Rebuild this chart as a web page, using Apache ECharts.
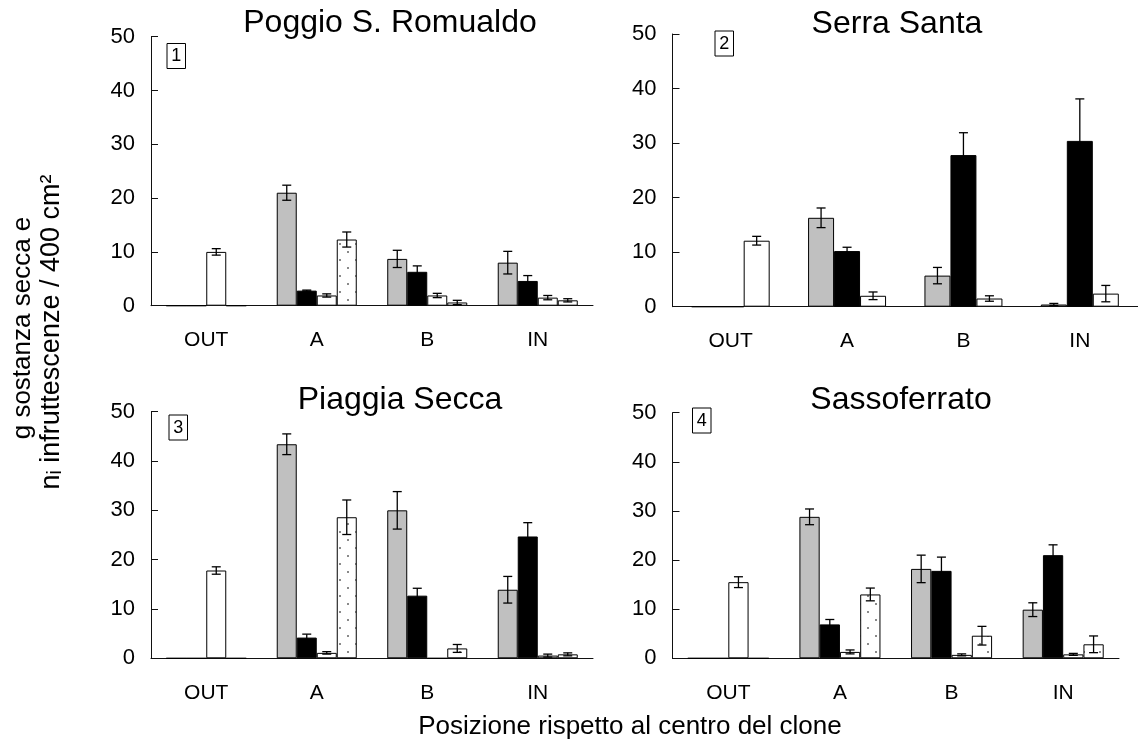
<!DOCTYPE html>
<html lang="it">
<head>
<meta charset="UTF-8" />
<title>Infruttescenze</title>
<script src="https://cdn.jsdelivr.net/npm/echarts@6/dist/echarts.min.js"></script>
<style>html,body{margin:0;padding:0;background:#fff}</style>
</head>
<body>
<div id="main" style="width:1138px;height:751px"></div>
<script>
var categorie = ['OUT', 'A', 'B', 'IN'];
var titoli = ['Poggio S. Romualdo', 'Serra Santa', 'Piaggia Secca', 'Sassoferrato'];
var yMin = 0, yMax = 50, yPasso = 10;

// 1 - Poggio S. Romualdo
var p1Grigio = [0, 21.0, 8.7, 8.0],    p1GrigioErr = [0, 1.4, 1.6, 2.1];
var p1Nero = [0, 2.8, 6.3, 4.6],       p1NeroErr = [0, 0.1, 1.1, 1.0];
var p1Bianco = [10.0, 1.9, 1.9, 1.5],  p1BiancoErr = [0.6, 0.3, 0.4, 0.4];
var p1Punti = [0, 12.3, 0.6, 1.0],     p1PuntiErr = [0, 1.4, 0.4, 0.3];

// 2 - Serra Santa (senza serie puntinata)
var p2Grigio = [0, 16.3, 5.7, 0.4],    p2GrigioErr = [0, 1.8, 1.5, 0.2];
var p2Nero = [0, 10.2, 27.8, 30.4],    p2NeroErr = [0, 0.7, 4.1, 7.7];
var p2Bianco = [12.1, 2.0, 1.5, 2.4],  p2BiancoErr = [0.8, 0.7, 0.5, 1.5];

// 3 - Piaggia Secca
var p3Grigio = [0, 43.4, 30.0, 13.9],  p3GrigioErr = [0, 2.1, 3.8, 2.7];
var p3Nero = [0, 4.2, 12.7, 24.7],     p3NeroErr = [0, 0.7, 1.5, 2.8];
var p3Bianco = [17.8, 1.1, 0, 0.55],   p3BiancoErr = [0.75, 0.25, 0, 0.3];
var p3Punti = [0, 28.6, 2.0, 0.8],     p3PuntiErr = [0, 3.5, 0.8, 0.3];

// 4 - Sassoferrato
var p4Grigio = [0, 28.8, 18.2, 9.9],   p4GrigioErr = [0, 1.6, 2.8, 1.4];
var p4Nero = [0, 6.9, 17.8, 21.0],     p4NeroErr = [0, 1.0, 2.8, 2.1];
var p4Bianco = [15.5, 1.3, 0.7, 0.8],  p4BiancoErr = [1.1, 0.4, 0.2, 0.2];
var p4Punti = [0, 13.0, 4.6, 2.85],    p4PuntiErr = [0, 1.3, 1.9, 1.7];

var font = '"Liberation Sans", Arial, sans-serif';

// riempimento puntinato
var tile = document.createElement('canvas');
tile.width = 16; tile.height = 16;
var tc = tile.getContext('2d');
tc.fillStyle = '#fff'; tc.fillRect(0, 0, 16, 16);
tc.fillStyle = '#8a8a8a';
tc.fillRect(3, 3, 2, 2); tc.fillRect(11, 11, 2, 2);

var colori = {
  grigio: '#c0c0c0',
  nero: '#000',
  bianco: '#fff',
  punti: { image: tile, repeat: 'repeat' }
};

var griglie = [
  { left: 151, top: 36.7, width: 442, height: 269, gap: 0.276 },
  { left: 672.5, top: 34, width: 466, height: 272.7, gap: 0.33 },
  { left: 151, top: 411.7, width: 442, height: 246.6, gap: 0.276 },
  { left: 672.5, top: 412.7, width: 446.5, height: 245.6, gap: 0.274 }
];

var pannelli = [
  [['grigio', p1Grigio, p1GrigioErr], ['nero', p1Nero, p1NeroErr], ['bianco', p1Bianco, p1BiancoErr], ['punti', p1Punti, p1PuntiErr]],
  [['grigio', p2Grigio, p2GrigioErr], ['nero', p2Nero, p2NeroErr], ['bianco', p2Bianco, p2BiancoErr]],
  [['grigio', p3Grigio, p3GrigioErr], ['nero', p3Nero, p3NeroErr], ['bianco', p3Bianco, p3BiancoErr], ['punti', p3Punti, p3PuntiErr]],
  [['grigio', p4Grigio, p4GrigioErr], ['nero', p4Nero, p4NeroErr], ['bianco', p4Bianco, p4BiancoErr], ['punti', p4Punti, p4PuntiErr]]
];

function barreErrore(gi, medie, errori, k, n, gap) {
  return {
    type: 'custom',
    xAxisIndex: gi, yAxisIndex: gi,
    z: 10, silent: true,
    data: medie.map(function (m, i) { return [i, m, errori[i]]; }),
    renderItem: function (params, api) {
      var e = api.value(2);
      if (!e) return;
      var m = api.value(1);
      var banda = api.size([1, 0])[0];
      var w = banda * (1 - gap) / n;
      var x = api.coord([api.value(0), m])[0] + (k - (n - 1) / 2) * w;
      var yt = api.coord([api.value(0), m + e])[1];
      var yb = api.coord([api.value(0), m - e])[1];
      var c = 4.5;
      var st = { stroke: '#000', lineWidth: 1.3 };
      return {
        type: 'group',
        children: [
          { type: 'line', shape: { x1: x, y1: yt, x2: x, y2: yb }, style: st },
          { type: 'line', shape: { x1: x - c, y1: yt, x2: x + c, y2: yt }, style: st },
          { type: 'line', shape: { x1: x - c, y1: yb, x2: x + c, y2: yb }, style: st }
        ]
      };
    }
  };
}

var grid = [], xAxis = [], yAxis = [], series = [];
griglie.forEach(function (g, gi) {
  grid.push({ left: g.left, top: g.top, width: g.width, height: g.height, containLabel: false });
  xAxis.push({
    type: 'category', gridIndex: gi, data: categorie,
    axisLine: { lineStyle: { color: '#111', width: 1 } },
    axisTick: { inside: true, length: 8, lineStyle: { color: '#111' } },
    axisLabel: { color: '#000', fontSize: 21, fontFamily: font, margin: 24 }
  });
  yAxis.push({
    type: 'value', gridIndex: gi, min: yMin, max: yMax, interval: yPasso,
    splitLine: { show: false },
    axisLine: { show: true, lineStyle: { color: '#111', width: 1 } },
    axisTick: { show: true, inside: true, length: 7, lineStyle: { color: '#111' } },
    axisLabel: { color: '#000', fontSize: 22, fontFamily: font, margin: 16 }
  });
  var serie = pannelli[gi];
  serie.forEach(function (s, k) {
    series.push({
      type: 'bar', name: s[0], xAxisIndex: gi, yAxisIndex: gi,
      data: s[1],
      barGap: '0%', barCategoryGap: (g.gap * 100) + '%',
      itemStyle: { color: colori[s[0]], borderColor: '#000', borderWidth: 1 },
      silent: true
    });
    series.push(barreErrore(gi, s[1], s[2], k, serie.length, g.gap));
  });
});

var titoliPos = [[390, 23], [897, 24], [400, 400], [901, 400]];
var riquadri = [[167, 43.5, '1'], [715, 31, '2'], [169, 415, '3'], [692.5, 408, '4']];

var graphic = [];
titoli.forEach(function (t, i) {
  graphic.push({
    type: 'text', x: titoliPos[i][0], y: titoliPos[i][1],
    style: { text: t, font: '32px ' + font, fill: '#000', align: 'center', verticalAlign: 'middle' }
  });
});
riquadri.forEach(function (r) {
  graphic.push({
    type: 'rect', shape: { x: r[0], y: r[1], width: 18.5, height: 25 },
    style: { fill: '#fff', stroke: '#000', lineWidth: 1 }
  });
  graphic.push({
    type: 'text', x: r[0] + 9.25, y: r[1] + 13,
    style: { text: r[2], font: '18px ' + font, fill: '#000', align: 'center', verticalAlign: 'middle' }
  });
});
graphic.push({
  type: 'text', x: 630, y: 727,
  style: { text: 'Posizione rispetto al centro del clone', font: '26px ' + font, fill: '#000', align: 'center', verticalAlign: 'middle' }
});
graphic.push({
  type: 'text', x: 23, y: 328, rotation: Math.PI / 2,
  style: { text: 'g sostanza secca e', font: '26px ' + font, fill: '#000', align: 'center', verticalAlign: 'middle' }
});
graphic.push({
  type: 'text', x: 52, y: 332, rotation: Math.PI / 2,
  style: { text: 'n\u1D62 infruttescenze / 400 cm\u00B2', font: '27px ' + font, fill: '#000', align: 'center', verticalAlign: 'middle' }
});

var myChart = echarts.init(document.getElementById('main'), null, { renderer: 'canvas' });
myChart.setOption({
  animation: false,
  backgroundColor: '#fff',
  grid: grid,
  xAxis: xAxis,
  yAxis: yAxis,
  series: series,
  graphic: graphic
});
</script>
</body>
</html>
